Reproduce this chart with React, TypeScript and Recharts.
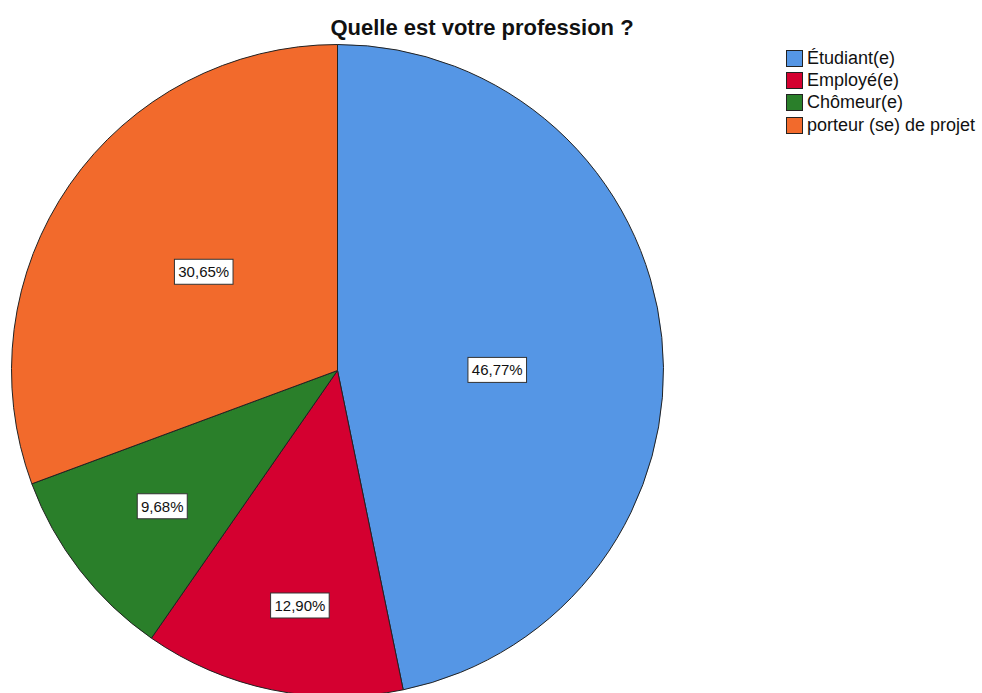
import { Cell, Legend, Pie, PieChart } from 'recharts'

const categories = ['Étudiant(e)', 'Employé(e)', 'Chômeur(e)', 'porteur (se) de projet']
const percents = [46.77, 12.9, 9.68, 30.65]
const colors = ['#5596E5', '#D40030', '#2A7F2A', '#F26A2C']

const data = categories.map((name, i) => ({ name, value: percents[i] }))

const FONT = '"Liberation Sans", Arial, sans-serif'
const W = 982
const H = 693
const CX = 337.5
const CY = 370.5
const R = 326

// where SPSS drops each percentage box: fraction of the radius, small angle nudge
const labelPlace = [
  { f: 0.49, shift: -5.6 },
  { f: 0.73, shift: 2.5 },
  { f: 0.68, shift: 0 },
  { f: 0.51, shift: -1.6 },
]

const RAD = Math.PI / 180

function renderLabel(props: any) {
  const { midAngle, index, value } = props
  const p = labelPlace[index] ?? { f: 0.5, shift: 0 }
  const a = (midAngle + p.shift) * RAD
  const x = CX + Math.cos(a) * R * p.f
  const y = CY - Math.sin(a) * R * p.f
  const text = value.toFixed(2).replace('.', ',') + '%'
  const w = text.length * 8.6 + 7
  const h = 25
  return (
    <g key={`lbl-${index}`}>
      <rect x={x - w / 2} y={y - h / 2} width={w} height={h} fill="#fff" stroke="#333" strokeWidth={1} />
      <text x={x} y={y + 5.5} textAnchor="middle" fontFamily={FONT} fontSize={15} fill="#111">
        {text}
      </text>
    </g>
  )
}

function renderLegend() {
  return (
    <div style={{ fontFamily: FONT, fontSize: 18, color: '#111' }}>
      {data.map((d, i) => (
        <div key={d.name} style={{ display: 'flex', alignItems: 'center', height: 22.3, whiteSpace: 'nowrap' }}>
          <span
            style={{
              display: 'inline-block',
              width: 15,
              height: 15,
              background: colors[i],
              border: '1px solid #222',
              marginRight: 4,
            }}
          />
          {d.name}
        </div>
      ))}
    </div>
  )
}

export default function App() {
  return (
    <div style={{ position: 'absolute', left: 0, top: 0, width: W, height: H, background: '#fff' }}>
      <div
        style={{
          position: 'absolute',
          left: 0,
          width: W - 18,
          top: 15,
          textAlign: 'center',
          fontFamily: FONT,
          fontWeight: 'bold',
          fontSize: 22,
          color: '#111',
        }}
      >
        Quelle est votre profession ?
      </div>
      <PieChart width={W} height={H} margin={{ top: 0, right: 0, bottom: 0, left: 0 }}>
        <Pie
          data={data}
          dataKey="value"
          nameKey="name"
          cx={CX}
          cy={CY}
          outerRadius={R}
          startAngle={90}
          endAngle={-270}
          stroke="#222"
          strokeWidth={1}
          label={renderLabel}
          labelLine={false}
          isAnimationActive={false}
        >
          {data.map((d, i) => (
            <Cell key={d.name} fill={colors[i]} />
          ))}
        </Pie>
        <Legend content={renderLegend} wrapperStyle={{ position: 'absolute', left: 786, top: 47, width: 200 }} />
      </PieChart>
    </div>
  )
}
